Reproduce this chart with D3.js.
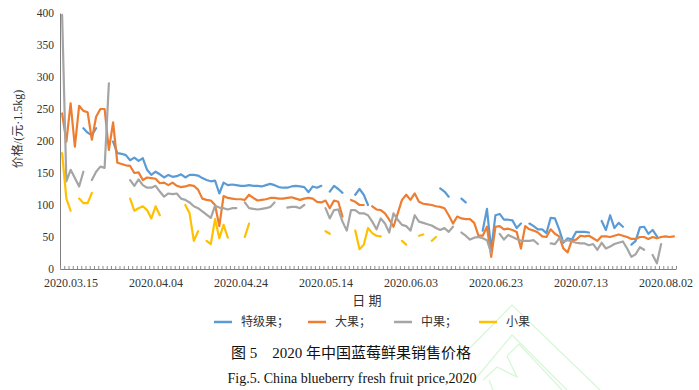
<!DOCTYPE html>
<html>
<head>
<meta charset="utf-8">
<script src="https://cdn.jsdelivr.net/npm/d3@7"></script>
<style>
  body { margin: 0; background: #fff; }
  svg { display: block; }
</style>
</head>
<body>
<div id="chart"></div>
<script>
// daily prices, first day 2020.03.13 (null = no quote that day)
var firstDay = new Date(2020, 2, 13)

var special = [
  null, null, null, null, null, 220, 213, 209, 220, null,
  null, null, 199, 181, 180, 178, 170, 174, 169, 173,
  155, 147, 152, 148, 143, 147, 144, 145, 148, 143,
  147, 147, 146, 142, 139, 137, 138, 118, 135, 131,
  132, 131, 130, 130, 131, 130, 130, 129, 131, 133,
  131, 128, 127, 127, 129, 130, 129, 128, 120, 129,
  127, 130, null, 121, 130, 125, 119, null, null, 116,
  125, 116, 100, null, null, null, null, null, null, null,
  null, null, null, null, null, null, null, null, null, 126,
  121, 113, null, null, 110, 104, null, null, null, 60,
  94, 30, 84, 86, 77, 77, 76, 64, 71, null,
  71, 67, 62, 62, 56, 80, 79, 62, 41, 48,
  46, 58, 58, 58, 57, null, null, 75, 61, 84,
  64, 72, 66, null, 38, 44, 65, 66, 55, 61,
  51, null, null, null, null
]

var large = [
  243, 199, 259, 191, 255, 247, 245, 202, 238, 250,
  250, 186, 229, 166, 164, 162, 161, 150, 151, 139,
  143, 142, 141, 134, 135, 131, 135, 130, 128, 129,
  131, 130, 124, 110, 108, 107, 100, 67, 114, 111,
  110, 109, 109, 108, 116, 111, 107, 108, 109, 111,
  111, 110, 110, 111, 112, 110, 108, 110, 111, 110,
  105, 104, 107, 95, 107, 105, 82, null, 108, 105,
  100, 100, null, 98, 93, 92, 87, 77, 66, 87,
  108, 116, 108, 118, 105, 102, 101, 100, 98, 97,
  95, 84, 71, 82, 79, 78, 78, 72, 52, 52,
  66, 19, 66, 67, 62, 63, 61, 58, 32, 67,
  62, 60, 57, 51, 50, 62, 55, 51, 32, 26,
  45, 46, 52, 51, 52, 48, 44, 51, 51, 50,
  52, 54, 52, 50, 47, 47, 50, 50, 47, 50,
  48, 50, 51, 50, 51
]

var medium = [
  397, 137, 155, 142, 129, 152, null, 139, 152, 160,
  158, 290, null, null, null, null, 139, 130, 140, 131,
  127, 127, 130, 121, 113, 118, 117, 118, 110, 108,
  104, 98, 95, 90, 85, 80, 99, 96, 95, 93,
  95, 95, null, 104, 95, 94, 93, 94, 95, 97,
  104, null, null, 96, 97, 97, 95, 100, null, null,
  null, null, 95, 79, 92, 93, 74, 60, 92, 92,
  87, 87, 84, 74, 62, 79, 71, 57, 87, 77,
  69, 67, 60, 84, 74, 72, 70, 68, 64, 61,
  64, 58, 66, null, 57, 52, 46, 49, 50, 48,
  45, 25, null, 55, 46, 53, 50, 47, 44, 44,
  44, 45, 39, null, null, 40, 39, 48, 43, 45,
  43, 41, 40, 40, 37, 39, 30, 41, 32, 35,
  39, 41, 43, 32, 19, 23, 34, 30, null, 22,
  9, 39, null, null, null
]

var small = [
  181, 110, 91, null, 110, 103, 103, 119, null, null,
  null, null, null, null, null, null, 110, 91, 95, 98,
  92, 79, 98, 84, null, null, null, null, null, 100,
  87, 44, 59, null, 44, 39, 78, 48, 69, 49,
  null, null, null, 50, 71, null, null, null, null, null,
  null, null, null, null, null, null, null, null, null, null,
  null, null, 59, 55, null, null, null, null, null, 60,
  31, 38, 64, 56, 52, 51, null, null, null, null,
  44, 38, null, null, 52, 54, null, 44, 50
]

var seriesNames = ["特级果；", "大果；", "中果；", "小果"]
var seriesColors = ["#5b9bd5", "#ed7d31", "#a5a5a5", "#ffc000"]
var seriesValues = [special, large, medium, small]

var yTicks = [0, 50, 100, 150, 200, 250, 300, 350, 400]
var xLabelDates = ["2020.03.15", "2020.04.04", "2020.04.24", "2020.05.14",
                   "2020.06.03", "2020.06.23", "2020.07.13", "2020.08.02"]

var width = 699, height = 390
var plotLeft = 60, plotRight = 676, plotTop = 13, plotBottom = 269
var serif = "'Liberation Serif', 'Times New Roman', serif"
var cjk = "'Liberation Serif', 'Noto Sans CJK SC', sans-serif"

var parseDay = d3.timeParse("%Y.%m.%d")
var fmtDay = d3.timeFormat("%Y.%m.%d")

// one category per day, the point sits in the middle of its slot
var lastDay = d3.timeDay.offset(firstDay, 144)
var xScale = d3.scaleTime()
    .domain([d3.timeHour.offset(firstDay, -12), d3.timeHour.offset(lastDay, 12)])
    .range([plotLeft, plotRight])
var yScale = d3.scaleLinear().domain([0, 400]).range([plotBottom, plotTop])

var svg = d3.select("#chart").append("svg")
    .attr("width", width)
    .attr("height", height)

// faint watermark in the lower right
var wm = svg.append("g")
    .attr("fill", "none")
    .attr("stroke", "#d4f7d4")
    .attr("stroke-width", 1.2)
var wmPaths = [
  "M470,348L512,305L600,390",
  "M473,382L512,335L567,390",
  "M507,356L519,344L562,390",
  "M507,356L517,377L497,367L483,380",
  "M489,380L493,390"
]
wm.selectAll("path").data(wmPaths).enter().append("path").attr("d", function(d) { return d })

// y axis
var yAxis = d3.axisLeft(yScale).tickValues(yTicks).tickSize(0).tickPadding(6)
var yG = svg.append("g")
    .attr("transform", "translate(" + plotLeft + ",0)")
    .call(yAxis)
yG.select(".domain").attr("stroke", "#7f7f7f")
yG.selectAll("text").attr("font-family", serif).attr("font-size", "11.5px").attr("fill", "#333")

// x axis: labels every 20 days, small tick on each category boundary
var xAxis = d3.axisBottom(xScale)
    .tickValues(xLabelDates.map(parseDay))
    .tickFormat(fmtDay)
    .tickSize(0)
    .tickPadding(9)
var xG = svg.append("g")
    .attr("transform", "translate(0," + plotBottom + ")")
    .call(xAxis)
xG.select(".domain").attr("stroke", "#7f7f7f")
xG.selectAll("text").attr("font-family", serif).attr("font-size", "12px").attr("fill", "#333")

var boundaries = d3.range(146).map(function(k) {
    return d3.timeHour.offset(firstDay, k * 24 - 12)
})
var minorAxis = d3.axisBottom(xScale).tickValues(boundaries).tickFormat("").tickSize(-3)
var mG = svg.append("g")
    .attr("transform", "translate(0," + plotBottom + ")")
    .call(minorAxis)
mG.select(".domain").remove()
mG.selectAll("line").attr("stroke", "#8c8c8c")

// lines
var line = d3.line()
    .defined(function(d) { return d != null })
    .x(function(d, i) { return xScale(d3.timeDay.offset(firstDay, i)) })
    .y(function(d) { return yScale(d) })

svg.append("g").selectAll("path")
    .data(seriesValues)
    .enter()
    .append("path")
    .attr("d", line)
    .attr("fill", "none")
    .attr("stroke", function(d, i) { return seriesColors[i] })
    .attr("stroke-width", 2.2)
    .attr("stroke-linejoin", "round")
    .attr("stroke-linecap", "round")

// axis titles
svg.append("text")
    .attr("transform", "translate(22,129) rotate(-90)")
    .attr("text-anchor", "middle")
    .attr("font-family", cjk)
    .attr("font-size", "12px")
    .attr("fill", "#333")
    .text("价格/(元·1.5kg)")

svg.append("text")
    .attr("x", 367)
    .attr("y", 305)
    .attr("text-anchor", "middle")
    .attr("font-family", cjk)
    .attr("font-size", "13px")
    .attr("fill", "#333")
    .text("日 期")

// legend
var legendX = [214, 308, 394, 479]
var legend = svg.append("g").selectAll("g")
    .data(seriesNames)
    .enter()
    .append("g")
    .attr("transform", function(d, i) { return "translate(" + legendX[i] + ",322)" })
legend.append("line")
    .attr("x1", 0).attr("x2", 18)
    .attr("stroke", function(d, i) { return seriesColors[i] })
    .attr("stroke-width", 2.5)
legend.append("text")
    .attr("x", 27)
    .attr("y", 4)
    .attr("font-family", cjk)
    .attr("font-size", "12px")
    .attr("fill", "#333")
    .text(function(d) { return d })

// captions
svg.append("text")
    .attr("x", 351)
    .attr("y", 358)
    .attr("text-anchor", "middle")
    .attr("font-family", cjk)
    .attr("font-size", "15px")
    .attr("fill", "#111")
    .text("图 5\u00a0\u00a0\u00a0\u00a02020 年中国蓝莓鲜果销售价格")

svg.append("text")
    .attr("x", 352)
    .attr("y", 383)
    .attr("text-anchor", "middle")
    .attr("font-family", serif)
    .attr("font-size", "14px")
    .attr("fill", "#111")
    .text("Fig.5. China blueberry fresh fruit price,2020")
</script>
</body>
</html>
